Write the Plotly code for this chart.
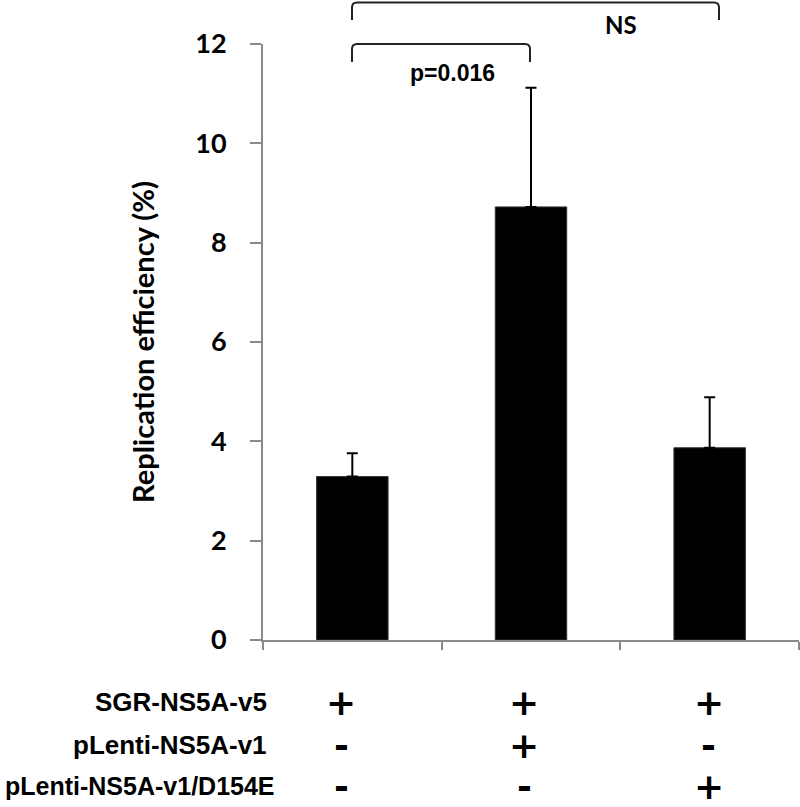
import plotly.graph_objects as go

categories = ["A", "B", "C"]
values = [3.29, 8.72, 3.87]
errors_up = [0.47, 2.40, 1.02]

row_labels = ["SGR-NS5A-v5", "pLenti-NS5A-v1", "pLenti-NS5A-v1/D154E"]
row_signs = [["+", "+", "+"], ["-", "+", "-"], ["-", "-", "+"]]
p_label = "p=0.016"
ns_label = "NS"
y_title = "Replication efficiency (%)"
y_ticks = [0, 2, 4, 6, 8, 10, 12]

W, H = 800, 807
PX0, PX1, PY0, PY1 = 263, 799, 44, 640   # plot area in screen pixels
L, R, T, B = PX0, W - PX1, PY0, H - PY1
PW, PH = PX1 - PX0, PY1 - PY0

def px_x(p):
    return (p - PX0) / PW

def px_y(p):
    return (PY1 - p) / PH

AX = "#8a8a8a"

fig = go.Figure()
fig.add_trace(go.Bar(
    x=categories, y=values, width=0.4,
    marker=dict(color="black", line=dict(color="#333", width=1)),
    error_y=dict(type="data", symmetric=False, array=errors_up,
                 arrayminus=[0] * len(values), color="black",
                 thickness=2, width=5.5),
    showlegend=False,
))

shapes = []
def bracket(x0, x1, ytop, ybot, r=5):
    X0, X1 = px_x(x0), px_x(x1)
    Yt, Yb = px_y(ytop), px_y(ybot)
    rx, ry = r / PW, r / PH
    path = (f"M {X0} {Yb} L {X0} {Yt - ry} Q {X0} {Yt} {X0 + rx} {Yt} "
            f"L {X1 - rx} {Yt} Q {X1} {Yt} {X1} {Yt - ry} L {X1} {Yb}")
    return dict(type="path", path=path, xref="paper", yref="paper",
                line=dict(color="#222", width=2))

shapes.append(bracket(352, 530, 44, 62))
shapes.append(bracket(352, 719, 2.5, 20))

annotations = [
    dict(text=p_label, x=px_x(452), y=px_y(73), xref="paper", yref="paper",
         showarrow=False, font=dict(family="Liberation Sans", size=23, color="black", weight="bold"),
         xanchor="center", yanchor="middle"),
    dict(text=ns_label, x=px_x(621), y=px_y(25), xref="paper", yref="paper",
         showarrow=False, font=dict(family="Lato", size=24, color="black", weight="bold"),
         xanchor="center", yanchor="middle"),
]

row_y = [702, 745, 786]
label_right = [269, 269, 277]
label_size = [26, 26, 25]
sym_shift = [-11, -7, -1]
for i, lab in enumerate(row_labels):
    annotations.append(dict(
        text=lab, x=px_x(label_right[i]), y=px_y(row_y[i]), xref="paper", yref="paper",
        showarrow=False, xanchor="right", yanchor="middle",
        font=dict(family="Liberation Sans", size=label_size[i], color="black", weight="bold")))
    for j, s in enumerate(row_signs[i]):
        annotations.append(dict(
            text=s, x=categories[j], y=px_y(row_y[i]), xref="x", yref="paper",
            xshift=sym_shift[j], showarrow=False, xanchor="center", yanchor="middle",
            font=dict(family="DejaVu Sans", size=36, color="black", weight="bold")))

fig.update_layout(
    width=W, height=H, margin=dict(l=L, r=R, t=T, b=B),
    plot_bgcolor="white", paper_bgcolor="white",
    shapes=shapes, annotations=annotations,
    bargap=0.6,
    xaxis=dict(type="category", showline=True, linecolor=AX, linewidth=2,
               ticks="outside", ticklen=8, tickcolor=AX, tickwidth=2,
               tickson="boundaries", showticklabels=False, showgrid=False,
               zeroline=False, range=[-0.5, 2.5]),
    yaxis=dict(range=[0, 12], tickvals=y_ticks, showline=True, linecolor=AX,
               linewidth=2, ticks="outside", ticklen=11, tickcolor=AX, tickwidth=2,
               showgrid=False, zeroline=False, ticklabelstandoff=18,
               tickfont=dict(family="Lato", size=27, color="black", weight="bold"),
               title=dict(text=y_title, standoff=32,
                          font=dict(family="Lato", size=29, color="black", weight="bold"))),
)

fig.write_html("out.html", config={"displayModeBar": False},
               post_script="document.body.style.margin='0';document.body.style.overflow='hidden';")
